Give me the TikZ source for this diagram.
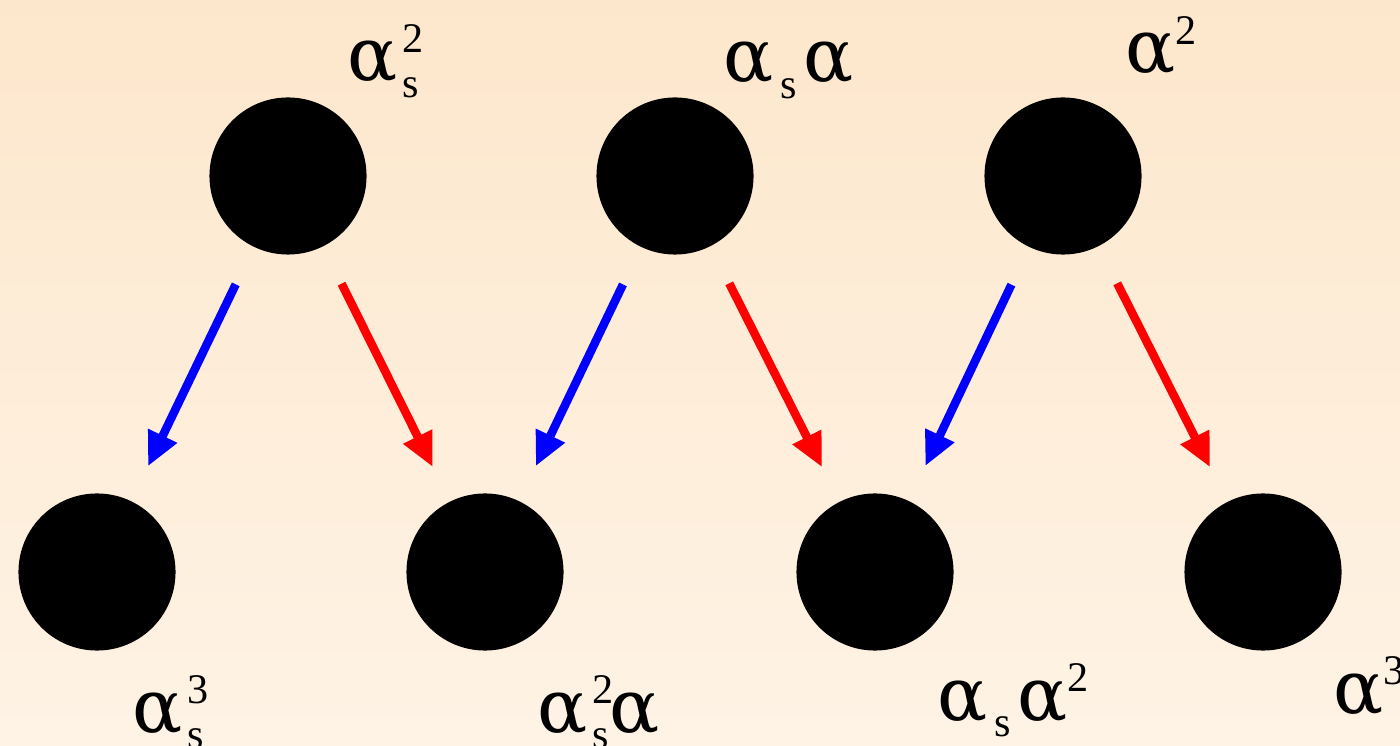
\documentclass[tikz,border=0pt]{standalone}
\usepackage{fontspec}
\setmainfont{Liberation Serif}
\newfontfamily\grk[Scale=0.88]{DejaVu Serif}
\usetikzlibrary{arrows.meta,positioning}
\definecolor{bgtop}{RGB}{253,231,204}
\definecolor{bgbot}{RGB}{254,243,229}
\newcommand{\al}{{\grk α}}
\newcommand{\scr}{\fontsize{12}{12}\selectfont}
\newcommand{\subsup}[2]{\kern0.06em\rlap{\raisebox{-0.19em}{\scr #1}}\raisebox{0.34em}{\scr #2}}
\newcommand{\lo}[1]{\raisebox{-0.19em}{\scr #1}}
\newcommand{\hi}[1]{\raisebox{0.34em}{\scr #1}}
\tikzset{
  >={Triangle[length=0.34cm,width=0.3cm]},
  dot/.style={circle,fill=black,minimum size=1.57cm,inner sep=0pt},
  lbl/.style={anchor=base west,inner sep=0pt,font=\fontsize{24}{24}\selectfont},
  arr/.style={->,line width=0.085cm,shorten <=0.41cm,shorten >=0.38cm},
  sarr/.style={arr,blue},
  earr/.style={arr,red}
}
\begin{document}
\begin{tikzpicture}[x=0.01cm,y=-0.01cm]
\shade[top color=bgtop,bottom color=bgbot](0,0) rectangle (1400,746);
\useasboundingbox (0,0) rectangle (1400,746);
% couplings of the lower order
\node[dot](t1) at (288,176){};
\node[dot](t2) at (675,176){};
\node[dot](t3) at (1063,176){};
% next order
\node[dot](b1) at (97,572){};
\node[dot](b2) at (485,572){};
\node[dot](b3) at (875,572){};
\node[dot](b4) at (1263,572){};
\node[lbl](lt1) at (347,81){\al\subsup{s}{2}};
\node[lbl](lt2) at (723,82){\al\kern0.08em\lo{s}\kern0.08em\al};
\node[lbl](lt3) at (1125,73){\al\hi{2}};
\node[lbl](lb1) at (132,732){\al\subsup{s}{3}};
\node[lbl](lb2) at (537,732){\al\subsup{s}{2}\kern-0.05em\al};
\node[lbl](lb3) at (937,720){\al\kern0.08em\lo{s}\kern0.08em\al\hi{2}};
\node[lbl](lb4) at (1333,713){\al\hi{3}};
\draw[sarr](t1)--(b1);
\draw[earr](t1)--(b2);
\draw[sarr](t2)--(b2);
\draw[earr](t2)--(b3);
\draw[sarr](t3)--(b3);
\draw[earr](t3)--(b4);
\end{tikzpicture}
\end{document}
